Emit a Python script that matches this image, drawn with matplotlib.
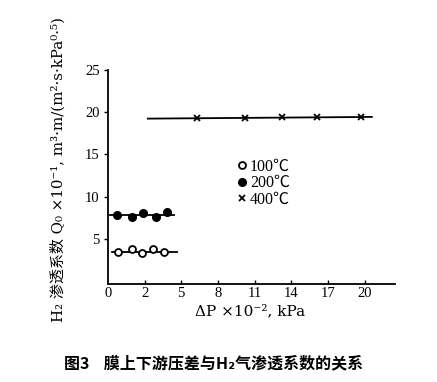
import numpy as np
import matplotlib
matplotlib.use("Agg")
import matplotlib.pyplot as plt
from matplotlib.lines import Line2D

plt.rcParams['font.family'] = ['Liberation Serif', 'Noto Sans CJK SC', 'DejaVu Sans']

# ---- data ----
x_tick_values = [0, 2, 5, 8, 11, 14, 17, 20]
x_tick_labels = ["0", "2", "5", "8", "11", "14", "17", "20"]
y_tick_values = [5, 10, 15, 20, 25]

dp_100 = [0.55, 1.3, 1.85, 2.7, 3.6]
q_100 = [3.47, 3.75, 3.28, 3.75, 3.40]
dp_200 = [0.5, 1.3, 1.9, 2.9, 3.8]
q_200 = [7.82, 7.62, 8.09, 7.62, 8.14]
dp_400 = [6.3, 10.2, 13.25, 16.1, 19.7]
q_400 = [19.3, 19.35, 19.4, 19.45, 19.4]

fit_100_x = [0.22, 4.65]
fit_100_y = [3.47, 3.47]
fit_200_x = [0.11, 4.4]
fit_200_y = [7.82, 7.82]
fit_400_x = [2.27, 20.6]
fit_400_y = [19.25, 19.45]

labels = ["100℃", "200℃", "400℃"]
ylabel = "H₂ 渗透系数 Q₀ ×10⁻¹, m³·m/(m²·s·kPa⁰·⁵)"
xlabel = "ΔP ×10⁻², kPa"
caption = "图3    膜上下游压差与H₂气渗透系数的关系"


# piecewise axis: ticks evenly spaced
def fwd(x):
    x = np.asarray(x, dtype=float)
    return np.where(x < 2, x / 2.0, 1 + (x - 2) / 3.0)


def inv(p):
    p = np.asarray(p, dtype=float)
    return np.where(p < 1, 2 * p, 2 + 3 * (p - 1))


fig = plt.figure(figsize=(4.37, 3.82), dpi=100)
ax = fig.add_axes([0.247, 0.2565, 0.657, 0.560])
ax.set_xscale('function', functions=(fwd, inv))

lw = 1.3
ax.plot(fit_100_x, fit_100_y, color='black', lw=lw)
ax.plot(fit_200_x, fit_200_y, color='black', lw=lw)
ax.plot(fit_400_x, fit_400_y, color='black', lw=lw)
ax.plot(dp_100, q_100, 'o', ms=5, mfc='white', mec='black', mew=1.3, ls='none')
ax.plot(dp_200, q_200, 'o', ms=5.5, mfc='black', mec='black', ls='none')
ax.plot(dp_400, q_400, 'x', ms=4, mec='black', mew=1.3, ls='none')

ax.set_xlim(0, 22.5)
ax.set_ylim(-0.35, 25)
ax.spines['top'].set_visible(False)
ax.spines['right'].set_visible(False)
ax.spines['left'].set_bounds(-0.35, 25)
for s in ('left', 'bottom'):
    ax.spines[s].set_linewidth(1.3)

ax.set_xticks(x_tick_values)
ax.set_xticklabels(x_tick_labels)
ax.set_yticks(y_tick_values)
ax.tick_params(axis='x', direction='in', length=3, width=1, labelsize=10.5, pad=2)
ax.tick_params(axis='y', direction='out', length=3, width=1, labelsize=10.5, pad=3)
ax.xaxis.get_major_ticks()[0].tick1line.set_visible(False)

handles = [
    Line2D([], [], marker='o', ls='none', ms=5, mfc='white', mec='black', mew=1.3),
    Line2D([], [], marker='o', ls='none', ms=5.5, mfc='black', mec='black'),
    Line2D([], [], marker='x', ls='none', ms=4, mec='black', mew=1.3),
]
ax.legend(handles, labels, loc='upper left', bbox_to_anchor=(0.524, 0.605),
          bbox_transform=fig.transFigure, frameon=False, fontsize=11.5,
          handlelength=0.6, handletextpad=0.2, labelspacing=0.02, borderpad=0)

serif_wide = ['DejaVu Serif', 'Noto Sans CJK SC', 'DejaVu Sans']
fig.text(58 / 437, 0.555, ylabel, rotation=90, ha='center', va='center',
         fontsize=10.8, family=serif_wide)
fig.text(0.572, 0.186, xlabel, ha='center', va='center', fontsize=11,
         family=serif_wide)
fig.text(0.488, 0.05, caption, ha='center', va='center', fontsize=11.5,
         fontweight='bold', family=['Noto Sans CJK SC', 'DejaVu Sans'])

fig.savefig("out.png", dpi=100)
